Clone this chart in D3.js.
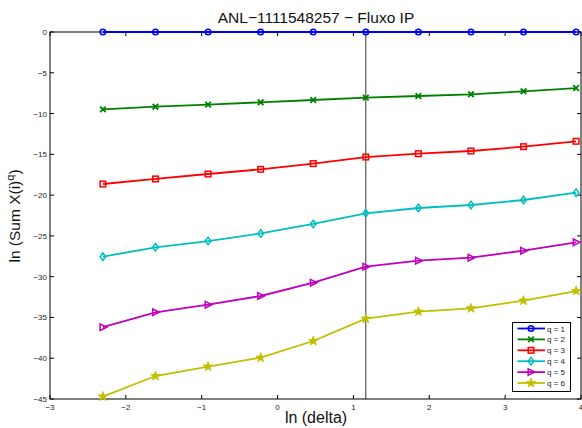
<!DOCTYPE html>
<html><head><meta charset="utf-8">
<script src="https://cdn.jsdelivr.net/npm/d3@7"></script>
<style>body{margin:0;background:#fff}svg{display:block}text{font-family:"Liberation Sans",Arial,sans-serif}</style>
</head><body>
<svg id="c" width="582" height="428"></svg>
<script>
const deltaLn = [-2.3026,-1.6094,-0.9163,-0.2231,0.4700,1.1632,1.8563,2.5494,3.2426,3.9357];
const q1 = [0,0,0,0,0,0,0,0,0,0];
const q2 = [-9.48,-9.16,-8.90,-8.62,-8.34,-8.05,-7.85,-7.64,-7.27,-6.87];
const q3 = [-18.64,-18.02,-17.41,-16.84,-16.14,-15.33,-14.92,-14.59,-14.06,-13.40];
const q4 = [-27.55,-26.40,-25.63,-24.70,-23.54,-22.23,-21.58,-21.21,-20.60,-19.70];
const q5 = [-36.20,-34.37,-33.43,-32.37,-30.74,-28.77,-28.04,-27.67,-26.81,-25.79];
const q6 = [-44.70,-42.18,-41.03,-39.93,-37.89,-35.15,-34.29,-33.88,-32.94,-31.76];
const seriesNames = ["q = 1","q = 2","q = 3","q = 4","q = 5","q = 6"];
const seriesColors = ["#0000ff","#008000","#ff0000","#00bfbf","#bf00bf","#bfbf00"];
const seriesMarkers = ["circle","cross","square","diamond","triangle","star"];
const xTicks = [-3,-2,-1,0,1,2,3,4];
const yTicks = [0,-5,-10,-15,-20,-25,-30,-35,-40,-45];
const vLineX = 1.1632;
const titleText = "ANL\u22121111548257 \u2212 Fluxo IP";
const xLabelText = "ln (delta)";

const svg = d3.select("#c");
const L=50,R=581,T=32,B=399;
const x = d3.scaleLinear().domain([-3,4]).range([L,R]);
const y = d3.scaleLinear().domain([-45,0]).range([B,T]);
const fmt = d => d<0 ? "\u2212"+Math.abs(d) : String(d);

const tl=4;
const ax = svg.append("g").attr("stroke","#000").attr("stroke-width",1);
ax.append("rect").attr("x",L).attr("y",T).attr("width",R-L).attr("height",B-T).attr("fill","none");
xTicks.forEach(t=>{
  ax.append("line").attr("x1",x(t)).attr("x2",x(t)).attr("y1",B).attr("y2",B-tl);
  ax.append("line").attr("x1",x(t)).attr("x2",x(t)).attr("y1",T).attr("y2",T+tl);
});
yTicks.forEach(t=>{
  ax.append("line").attr("y1",y(t)).attr("y2",y(t)).attr("x1",L).attr("x2",L+tl);
  ax.append("line").attr("y1",y(t)).attr("y2",y(t)).attr("x1",R).attr("x2",R-tl);
});
svg.append("g").selectAll("text").data(xTicks).join("text")
  .attr("x",d=>x(d)).attr("y",B+11).attr("text-anchor","middle").attr("font-size",8).attr("fill","#222").text(fmt);
svg.append("g").selectAll("text").data(yTicks).join("text")
  .attr("x",L-3).attr("y",d=>y(d)+3).attr("text-anchor","end").attr("font-size",8).attr("fill","#222").text(fmt);

svg.append("line").attr("x1",x(vLineX)).attr("x2",x(vLineX)).attr("y1",T).attr("y2",B).attr("stroke","#000").attr("stroke-width",0.8);

function marker(g,type,cx,cy,color){
  const s=2.8;
  if(type==="circle") g.append("circle").attr("cx",cx).attr("cy",cy).attr("r",s).attr("fill","none").attr("stroke",color).attr("stroke-width",1.5);
  else if(type==="cross") g.append("path").attr("d",`M${cx-s},${cy-s}L${cx+s},${cy+s}M${cx-s},${cy+s}L${cx+s},${cy-s}`).attr("stroke",color).attr("stroke-width",1.8);
  else if(type==="square") g.append("rect").attr("x",cx-s).attr("y",cy-s).attr("width",2*s).attr("height",2*s).attr("fill","none").attr("stroke",color).attr("stroke-width",1.5);
  else if(type==="diamond") g.append("path").attr("d",`M${cx},${cy-s-1}L${cx+s},${cy}L${cx},${cy+s+1}L${cx-s},${cy}Z`).attr("fill","none").attr("stroke",color).attr("stroke-width",1.5);
  else if(type==="triangle") g.append("path").attr("d",`M${cx-s},${cy-s-0.5}L${cx+s+1},${cy}L${cx-s},${cy+s+0.5}Z`).attr("fill","none").attr("stroke",color).attr("stroke-width",1.5);
  else if(type==="star"){
    const pts=[];
    for(let i=0;i<10;i++){const r=i%2?2:5;const a=-Math.PI/2+i*Math.PI/5;pts.push([cx+r*Math.cos(a),cy+r*Math.sin(a)]);}
    g.append("path").attr("d","M"+pts.join("L")+"Z").attr("fill",color).attr("stroke",color).attr("stroke-width",0.8);
  }
}

const all=[q1,q2,q3,q4,q5,q6];
const line=d3.line().x((d,i)=>x(deltaLn[i])).y(d=>y(d));
all.forEach((vals,k)=>{
  const g=svg.append("g");
  g.append("path").attr("d",line(vals)).attr("fill","none").attr("stroke",seriesColors[k]).attr("stroke-width",1.8);
  vals.forEach((v,i)=>marker(g,seriesMarkers[k],x(deltaLn[i]),y(v),seriesColors[k]));
});

const lg=svg.append("g");
lg.append("rect").attr("x",512.5).attr("y",322.5).attr("width",58).attr("height",69).attr("fill","#fff").attr("stroke","#000").attr("stroke-width",1);
seriesNames.forEach((n,k)=>{
  const yy=328.5+k*10.9;
  lg.append("line").attr("x1",517.5).attr("x2",545).attr("y1",yy).attr("y2",yy).attr("stroke",seriesColors[k]).attr("stroke-width",1.8);
  marker(lg,seriesMarkers[k],531,yy,seriesColors[k]);
  lg.append("text").attr("x",547).attr("y",yy+3).attr("font-size",8).attr("fill","#222").text(n);
});

svg.append("text").attr("x",316).attr("y",23).attr("text-anchor","middle").attr("font-size",15.5).attr("fill","#111").text(titleText);
svg.append("text").attr("x",316).attr("y",423).attr("text-anchor","middle").attr("font-size",16).attr("fill","#111").text(xLabelText);
const yl=svg.append("text").attr("transform","translate(20,216) rotate(-90)").attr("text-anchor","middle").attr("font-size",15.5).attr("fill","#111");
yl.append("tspan").text("ln (Sum X(i)");
yl.append("tspan").attr("font-size",11).attr("dy",-6).text("q");
yl.append("tspan").attr("dy",6).text(")");
</script>
</body></html>
